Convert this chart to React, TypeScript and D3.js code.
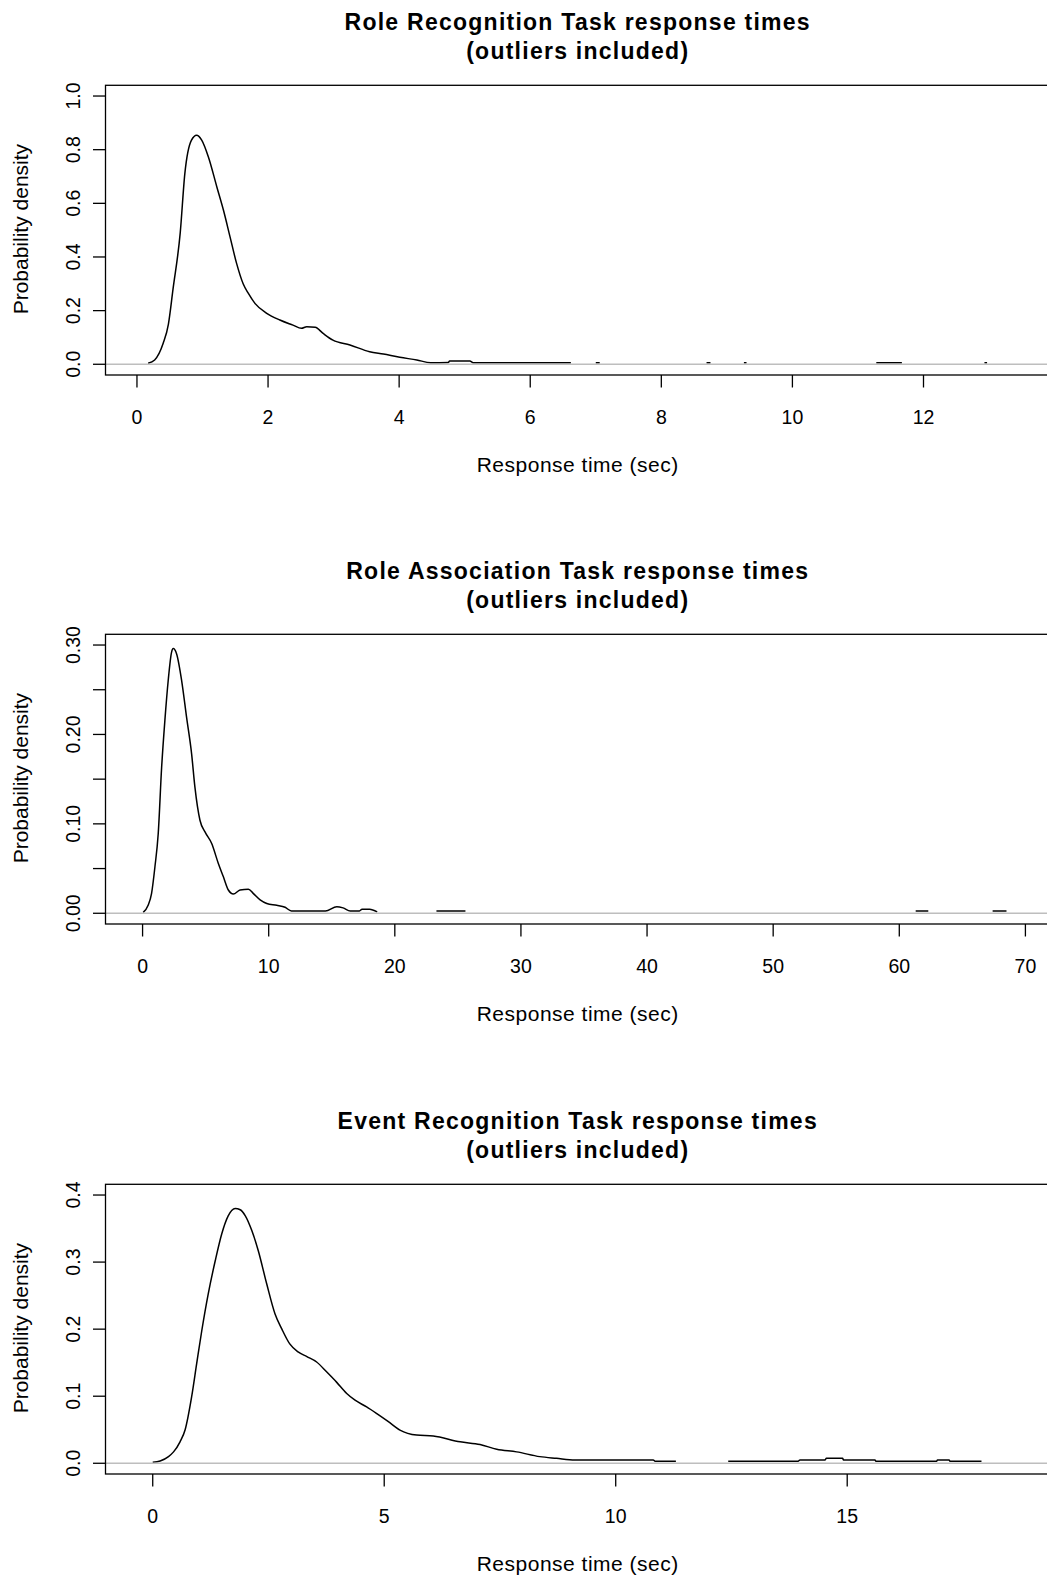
import React from "react";
import * as d3 from "d3";

// ---------- data ----------
const titles = [
  "Role Recognition Task response times",
  "Role Association Task response times",
  "Event Recognition Task response times",
];
const subtitle = "(outliers included)";
const xAxisTitle = "Response time (sec)";
const yAxisTitle = "Probability density";

// axis limits
const xLimits1 = [-0.48, 13.93];
const xLimits2 = [-2.94, 71.95];
const xLimits3 = [-1.02, 19.38];
const yLimits1 = [-0.04, 1.04];
const yLimits2 = [-0.012, 0.312];
const yLimits3 = [-0.016, 0.416];

const xTicks1 = [0, 2, 4, 6, 8, 10, 12];
const xTicks2 = [0, 10, 20, 30, 40, 50, 60, 70];
const xTicks3 = [0, 5, 10, 15];
const yTicks1 = [0, 0.2, 0.4, 0.6, 0.8, 1.0];
const yTicks2 = [0, 0.05, 0.1, 0.15, 0.2, 0.25, 0.3];
const yTickLabels2 = ["0.00", "", "0.10", "", "0.20", "", "0.30"];
const yTicks3 = [0, 0.1, 0.2, 0.3, 0.4];

// density curve 1: Role Recognition
const rrX = [0.17, 0.27, 0.4, 0.48, 0.55, 0.66, 0.73, 0.83, 0.91, 0.99, 1.09, 1.22, 1.32, 1.42, 1.52, 1.62, 1.7, 1.8, 1.98, 2.18, 2.38, 2.51, 2.59, 2.72, 2.84, 2.99, 3.25, 3.55, 3.76, 4.01, 4.27, 4.48, 4.75, 4.77, 5.08, 5.13, 6.62, 6.66, 6.98, 7.0, 7.06, 7.08, 8.67, 8.69, 8.75, 8.77, 9.24, 9.26, 9.3, 9.32, 11.26, 11.28, 11.67, 11.69, 12.91, 12.93, 12.97, 12.99];
const rrY = [0.004, 0.016, 0.078, 0.15, 0.28, 0.49, 0.71, 0.835, 0.854, 0.835, 0.773, 0.66, 0.574, 0.475, 0.376, 0.3, 0.264, 0.227, 0.19, 0.165, 0.146, 0.134, 0.14, 0.138, 0.115, 0.09, 0.072, 0.047, 0.038, 0.026, 0.016, 0.006, 0.007, 0.012, 0.012, 0.006, 0.006, 0.0, 0.0, 0.006, 0.006, 0.0, 0.0, 0.006, 0.006, 0.0, 0.0, 0.006, 0.006, 0.0, 0.0, 0.006, 0.006, 0.0, 0.0, 0.006, 0.006, 0.0];

// density curve 2: Role Association
const raX = [0.05, 0.44, 0.71, 0.98, 1.24, 1.51, 1.77, 2.03, 2.3, 2.43, 2.7, 3.1, 3.49, 3.89, 4.15, 4.55, 4.95, 5.48, 6.0, 6.4, 6.8, 7.2, 7.73, 8.39, 8.79, 9.32, 9.85, 10.64, 11.3, 11.8, 14.5, 15.4, 15.9, 16.47, 17.2, 17.4, 18.0, 18.6, 18.8, 23.2, 23.3, 25.6, 25.7, 61.2, 61.3, 62.3, 62.4, 67.3, 67.4, 68.5, 68.6];
const raY = [0.001, 0.009, 0.022, 0.052, 0.089, 0.163, 0.216, 0.26, 0.292, 0.296, 0.29, 0.26, 0.219, 0.178, 0.141, 0.104, 0.091, 0.078, 0.056, 0.041, 0.026, 0.0215, 0.026, 0.027, 0.022, 0.015, 0.011, 0.009, 0.0067, 0.0026, 0.0026, 0.0074, 0.006, 0.0026, 0.0026, 0.0045, 0.0045, 0.0015, 0.0, 0.0, 0.0026, 0.0026, 0.0, 0.0, 0.0026, 0.0026, 0.0, 0.0, 0.0026, 0.0026, 0.0];

// density curve 3: Event Recognition
const erX = [0.0, 0.16, 0.34, 0.45, 0.59, 0.7, 0.84, 0.95, 1.06, 1.2, 1.35, 1.49, 1.63, 1.78, 1.89, 2.0, 2.14, 2.28, 2.46, 2.64, 2.79, 2.96, 3.14, 3.33, 3.54, 3.76, 3.97, 4.19, 4.37, 4.62, 4.84, 5.09, 5.34, 5.7, 6.06, 6.64, 7.07, 7.43, 7.86, 8.36, 8.72, 9.12, 10.81, 10.85, 11.3, 11.35, 12.38, 12.43, 13.94, 13.98, 14.52, 14.55, 14.9, 14.92, 15.6, 15.62, 16.93, 16.95, 17.2, 17.22, 17.9, 17.95];
const erY = [0.0015, 0.0034, 0.01, 0.017, 0.032, 0.05, 0.099, 0.149, 0.198, 0.253, 0.302, 0.342, 0.369, 0.38, 0.378, 0.369, 0.347, 0.317, 0.268, 0.223, 0.2, 0.178, 0.166, 0.159, 0.151, 0.136, 0.121, 0.104, 0.094, 0.084, 0.074, 0.062, 0.0495, 0.042, 0.0406, 0.032, 0.028, 0.021, 0.017, 0.0099, 0.0074, 0.005, 0.005, 0.003, 0.003, 0.0, 0.0, 0.003, 0.003, 0.005, 0.005, 0.0074, 0.0074, 0.005, 0.005, 0.003, 0.003, 0.005, 0.005, 0.003, 0.003, 0.0];

// ---------- layout ----------
const W = 1047;
const H = 1579;
const FONT = "'Liberation Sans', Arial, Helvetica, sans-serif";
const LEFT = 105.5;
const RIGHT = 1050;
const BOX_TOP = 85.3;
const BOX_BOTTOM = 375;
const PANEL_OFFSETS = [0, 549, 1099];

const panels = [
  { title: titles[0], xs: rrX, ys: rrY, xLim: xLimits1, yLim: yLimits1, xTicks: xTicks1, yTicks: yTicks1, yLabels: yTicks1.map((v) => d3.format(".1f")(v)) },
  { title: titles[1], xs: raX, ys: raY, xLim: xLimits2, yLim: yLimits2, xTicks: xTicks2, yTicks: yTicks2, yLabels: yTickLabels2 },
  { title: titles[2], xs: erX, ys: erY, xLim: xLimits3, yLim: yLimits3, xTicks: xTicks3, yTicks: yTicks3, yLabels: yTicks3.map((v) => d3.format(".1f")(v)) },
];

function Panel({ p, off }: { p: any; off: number }) {
  const top = off + BOX_TOP;
  const bottom = off + BOX_BOTTOM;
  const x = d3.scaleLinear().domain(p.xLim).range([LEFT, RIGHT]);
  const y = d3.scaleLinear().domain(p.yLim).range([bottom, top]);
  const pts: [number, number][] = p.xs.map((v: number, i: number) => [v, p.ys[i]]);
  const line = d3
    .line<[number, number]>()
    .defined((d) => d[1] > 0)
    .x((d) => x(d[0]))
    .y((d) => y(d[1]))
    .curve(d3.curveMonotoneX);
  const cx = (LEFT + RIGHT) / 2;
  const cy = (top + bottom) / 2 - 1;
  const tick = 12.5;
  return (
    <g>
      <text x={cx} y={off + 29.5} textAnchor="middle" fontFamily={FONT} fontWeight="bold" fontSize={23} letterSpacing={1.25}>
        {p.title}
      </text>
      <text x={cx} y={off + 59} textAnchor="middle" fontFamily={FONT} fontWeight="bold" fontSize={23} letterSpacing={1.25}>
        {subtitle}
      </text>
      <path d={line(pts) || ""} fill="none" stroke="#000" strokeWidth={1.5} strokeLinejoin="round" />
      <line x1={LEFT} x2={RIGHT} y1={y(0)} y2={y(0)} stroke="#bebebe" strokeWidth={1.6} />
      <rect x={LEFT} y={top} width={RIGHT - LEFT} height={bottom - top} fill="none" stroke="#000" strokeWidth={1.3} />
      {p.xTicks.map((t: number) => (
        <g key={"x" + t}>
          <line x1={x(t)} x2={x(t)} y1={bottom} y2={bottom + tick} stroke="#000" strokeWidth={1.3} />
          <text x={x(t)} y={bottom + 48.5} textAnchor="middle" fontFamily={FONT} fontSize={19.5}>
            {String(t)}
          </text>
        </g>
      ))}
      {p.yTicks.map((t: number, i: number) => (
        <g key={"y" + i}>
          <line x1={LEFT - tick} x2={LEFT} y1={y(t)} y2={y(t)} stroke="#000" strokeWidth={1.3} />
          {p.yLabels[i] ? (
            <text transform={`translate(80,${y(t)}) rotate(-90)`} textAnchor="middle" fontFamily={FONT} fontSize={19.5}>
              {p.yLabels[i]}
            </text>
          ) : null}
        </g>
      ))}
      <text x={cx} y={bottom + 97} textAnchor="middle" fontFamily={FONT} fontSize={21} letterSpacing={0.5}>
        {xAxisTitle}
      </text>
      <text transform={`translate(28,${cy}) rotate(-90)`} textAnchor="middle" fontFamily={FONT} fontSize={21}>
        {yAxisTitle}
      </text>
    </g>
  );
}

export default function App() {
  return (
    <svg
      width={W}
      height={H}
      viewBox={`0 0 ${W} ${H}`}
      style={{ position: "absolute", left: 0, top: 0, background: "#fff", display: "block" }}
    >
      <rect x={0} y={0} width={W} height={H} fill="#fff" />
      {panels.map((p, i) => (
        <Panel key={i} p={p} off={PANEL_OFFSETS[i]} />
      ))}
    </svg>
  );
}
